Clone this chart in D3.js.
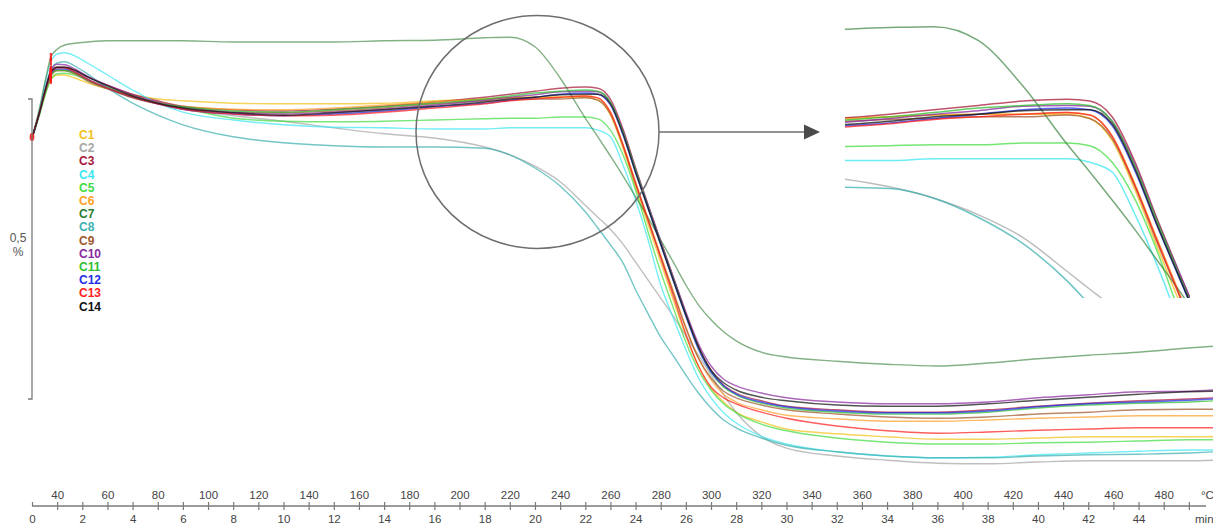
<!DOCTYPE html>
<html>
<head>
<meta charset="utf-8">
<script src="https://cdn.jsdelivr.net/npm/d3@7"></script>
<style>
  body { margin: 0; background: #fff; }
  svg { display: block; }
</style>
</head>
<body>
<svg id="chart" width="1213" height="527"></svg>
<script>
// Sampling times (min) shared by every run
const times = [0, 0.3, 0.55, 0.75, 1.0, 1.3, 1.7, 2.2, 3, 4, 5, 6, 8, 10, 12, 14, 16, 18, 19, 20, 21, 22, 22.5,
  23, 23.5, 24, 24.5, 25, 25.5, 26, 26.5, 27, 27.5, 28, 29, 30, 32, 34, 36, 38, 40, 42, 44, 46, 47];

// Relative length change (%) for each run
const c1 = [0, .040, .077, .098, .105, .105, .100, .092, .082, .072, .065, .062, .058, .057, .057, .058, .062, .065, .067, .068, .068, .068, .063,
  .038, -.017, -.082, -.145, -.207, -.270, -.330, -.380, -.417, -.440, -.457, -.473, -.485, -.493, -.498, -.502, -.502, -.500, -.498, -.498, -.498, -.498];
const c2 = [0, .043, .085, .110, .118, .117, .110, .098, .083, .068, .057, .048, .037, .028, .017, .007, 0, -.015, -.028, -.047, -.073, -.112, -.132,
  -.152, -.177, -.207, -.237, -.267, -.297, -.330, -.362, -.395, -.428, -.457, -.497, -.517, -.530, -.537, -.542, -.543, -.540, -.538, -.538, -.538, -.537];
const c3 = [0, .043, .083, .108, .118, .118, .113, .102, .088, .073, .062, .053, .047, .045, .048, .053, .060, .068, .073, .078, .083, .085, .083,
  .065, .015, -.050, -.112, -.172, -.232, -.292, -.347, -.387, -.412, -.425, -.438, -.447, -.453, -.457, -.457, -.453, -.447, -.442, -.438, -.435, -.433];
const c4 = [0, .047, .097, .127, .140, .142, .137, .125, .105, .080, .058, .043, .030, .022, .018, .017, .015, .015, .017, .017, .017, .017, .013,
  .002, -.045, -.103, -.170, -.245, -.300, -.353, -.400, -.433, -.458, -.475, -.497, -.510, -.523, -.530, -.533, -.532, -.528, -.525, -.522, -.520, -.520];
const c5 = [0, .038, .075, .097, .107, .108, .105, .097, .085, .070, .058, .050, .033, .028, .027, .028, .030, .032, .033, .033, .035, .035, .032,
  .013, -.028, -.087, -.157, -.223, -.283, -.340, -.387, -.420, -.443, -.458, -.477, -.488, -.500, -.507, -.510, -.510, -.508, -.507, -.505, -.503, -.503];
const c6 = [0, .042, .080, .105, .113, .113, .108, .097, .083, .070, .060, .053, .048, .047, .050, .055, .060, .065, .067, .068, .068, .070, .067,
  .043, -.010, -.073, -.135, -.195, -.255, -.315, -.367, -.403, -.427, -.440, -.453, -.462, -.468, -.472, -.472, -.470, -.467, -.465, -.463, -.463, -.463];
const c7 = [0, .050, .100, .135, .148, .155, .158, .160, .162, .162, .162, .162, .160, .160, .160, .162, .163, .167, .168, .152, .100, .033, .002,
  -.030, -.063, -.098, -.133, -.170, -.207, -.245, -.278, -.303, -.323, -.338, -.357, -.365, -.372, -.377, -.380, -.375, -.368, -.362, -.357, -.350, -.347];
const c8 = [0, .043, .087, .113, .125, .127, .120, .107, .083, .058, .038, .022, .002, -.008, -.013, -.015, -.015, -.017, -.028, -.050, -.080, -.123, -.150,
  -.178, -.208, -.253, -.293, -.332, -.363, -.395, -.425, -.450, -.470, -.483, -.500, -.512, -.523, -.530, -.533, -.533, -.530, -.528, -.527, -.525, -.523];
const c9 = [0, .042, .080, .103, .112, .112, .107, .095, .082, .067, .057, .050, .043, .042, .045, .050, .057, .062, .063, .065, .065, .067, .063,
  .040, -.013, -.077, -.138, -.198, -.258, -.317, -.367, -.400, -.422, -.433, -.445, -.453, -.460, -.465, -.467, -.465, -.460, -.457, -.453, -.452, -.452];
const c10 = [0, .043, .085, .113, .123, .122, .115, .103, .088, .072, .060, .052, .043, .040, .043, .048, .055, .063, .068, .072, .077, .078, .077,
  .060, .012, -.052, -.112, -.172, -.232, -.290, -.343, -.380, -.402, -.413, -.425, -.433, -.440, -.443, -.443, -.440, -.433, -.428, -.423, -.422, -.420];
const c11 = [0, .042, .080, .105, .113, .113, .108, .097, .083, .068, .058, .052, .045, .043, .047, .052, .058, .065, .070, .075, .078, .080, .078,
  .060, .010, -.053, -.115, -.175, -.235, -.295, -.350, -.390, -.415, -.428, -.442, -.450, -.457, -.460, -.460, -.457, -.450, -.445, -.442, -.440, -.438];
const c12 = [0, .042, .082, .107, .115, .115, .110, .098, .083, .068, .057, .048, .040, .037, .040, .045, .052, .058, .063, .068, .073, .075, .073,
  .055, .005, -.058, -.118, -.178, -.238, -.297, -.352, -.390, -.413, -.427, -.440, -.448, -.455, -.458, -.458, -.455, -.448, -.443, -.440, -.437, -.435];
const c13 = [0, .043, .082, .108, .117, .117, .110, .098, .083, .068, .057, .048, .040, .037, .038, .043, .050, .057, .062, .065, .068, .070, .067,
  .043, -.012, -.075, -.137, -.200, -.263, -.327, -.380, -.415, -.433, -.443, -.457, -.467, -.480, -.488, -.492, -.490, -.487, -.485, -.483, -.483, -.483];
const c14 = [0, .043, .083, .110, .118, .118, .113, .102, .087, .070, .058, .050, .042, .038, .042, .047, .053, .060, .065, .068, .072, .073, .073,
  .057, .007, -.057, -.117, -.177, -.237, -.295, -.348, -.387, -.408, -.420, -.432, -.438, -.445, -.447, -.447, -.443, -.437, -.432, -.427, -.423, -.422];

const seriesNames = ["C1", "C2", "C3", "C4", "C5", "C6", "C7", "C8", "C9", "C10", "C11", "C12", "C13", "C14"];
const seriesValues = [c1, c2, c3, c4, c5, c6, c7, c8, c9, c10, c11, c12, c13, c14];
const seriesColors = ["#f2c21a", "#a6a6a6", "#a8183a", "#3ee6f2", "#44dd44", "#ffa028", "#2e7d32",
  "#3fb0b0", "#a0582e", "#8a2aa0", "#2fbf2f", "#1f2fe8", "#ff2020", "#111111"];

// Axis labelling
const timeTicks = [0, 2, 4, 6, 8, 10, 12, 14, 16, 18, 20, 22, 24, 26, 28, 30, 32, 34, 36, 38, 40, 42, 44];
const tempTicks = [40, 60, 80, 100, 120, 140, 160, 180, 200, 220, 240, 260, 280, 300, 320, 340, 360, 380, 400, 420, 440, 460, 480];
const minorTicks = d3.range(0, 47);
const markerTime = 0.75;
const scaleBarTop = 0.065;
const scaleBarLength = 0.5;
const scaleBarLabel = ["0,5", "%"];

// Magnified window (min, %)
const zoomTime = [17, 24.75];
const zoomValue = [0.187, -0.142];

const svg = d3.select("#chart");
const W = 1213, H = 527;
svg.append("rect").attr("width", W).attr("height", H).attr("fill", "#fff");

const x = d3.scaleLinear().domain([0, 47]).range([32, 1214]);
const y = d3.scaleLinear().domain([0, -0.5]).range([138, 438]);
const tempScale = d3.scaleLinear().domain([30, 500]).range([x(0), x(47)]);

const series = seriesNames.map((name, i) => ({
  name, color: seriesColors[i],
  points: times.map((t, j) => ({ t, v: seriesValues[i][j] }))
}));

const axisCol = "#7a7a7a";
const font = "'Liberation Sans', Arial, sans-serif";

// ---- main curves
const line = d3.line().x(d => x(d.t)).y(d => y(d.v)).curve(d3.curveMonotoneX);
const gMain = svg.append("g");
gMain.selectAll("path").data(series).join("path")
  .attr("d", d => line(d.points))
  .attr("fill", "none")
  .attr("stroke", d => d.color)
  .attr("stroke-width", 1.4)
  .attr("stroke-opacity", d => d.name === "C7" ? 0.6 : 0.72)
  .attr("stroke-linejoin", "round");

// start / segment markers
const markIdx = times.indexOf(markerTime);
svg.append("g").selectAll("line").data(series).join("line")
  .attr("x1", x(markerTime)).attr("x2", x(markerTime))
  .attr("y1", d => y(d.points[markIdx].v) - 4)
  .attr("y2", d => y(d.points[markIdx].v) + 4)
  .attr("stroke", "#ff1a1a").attr("stroke-width", 2.2).attr("stroke-opacity", 0.85);
svg.append("ellipse")
  .attr("cx", x(0)).attr("cy", y(0) - 1).attr("rx", 2.4).attr("ry", 4)
  .attr("fill", "#ff1a1a").attr("fill-opacity", 0.9);

// ---- vertical scale bar
const yb0 = y(scaleBarTop), yb1 = y(scaleBarTop - scaleBarLength);
const gBar = svg.append("g").attr("stroke", axisCol).attr("stroke-width", 1.3).attr("fill", "none");
gBar.append("path").attr("d", `M${x(0) - 4},${yb0}H${x(0)}V${yb1}H${x(0) - 4}`);
svg.append("g").selectAll("text").data(scaleBarLabel).join("text")
  .attr("x", 18).attr("y", (d, i) => (yb0 + yb1) / 2 - 11 + i * 14)
  .attr("text-anchor", "middle").attr("dominant-baseline", "central")
  .attr("font-family", font).attr("font-size", 12).attr("fill", "#555")
  .text(d => d);

// ---- legend
svg.append("g").selectAll("text").data(series).join("text")
  .attr("x", 79).attr("y", (d, i) => 135 + i * 13.2)
  .attr("dominant-baseline", "central")
  .attr("font-family", font).attr("font-weight", "bold").attr("font-size", 12)
  .attr("fill", d => d.color)
  .text(d => d.name);

// ---- bottom double axis
const axisY = 506;
const gAx = svg.append("g").attr("transform", `translate(0,${axisY})`);
gAx.append("line").attr("x1", x(0)).attr("x2", 1206).attr("stroke", axisCol).attr("stroke-width", 1.3);
const marks = gAx.append("g").attr("transform", "translate(0,-4)")
  .call(d3.axisBottom(x).tickValues(minorTicks).tickSize(8).tickFormat(""));
marks.select(".domain").remove();
marks.selectAll("line").attr("stroke", axisCol).attr("stroke-width", 1.2);
marks.selectAll(".tick").filter(d => d === 0).select("line").attr("y2", 4);

const tempAx = gAx.append("g")
  .call(d3.axisTop(tempScale).tickValues(tempTicks).tickSize(0).tickPadding(7));
const timeAx = gAx.append("g")
  .call(d3.axisBottom(x).tickValues(timeTicks).tickSize(0).tickPadding(9));
[tempAx, timeAx].forEach(g => {
  g.select(".domain").remove();
  g.selectAll("text").attr("font-family", font).attr("font-size", 11.5).attr("fill", "#444");
});
gAx.append("text").attr("x", 1201).attr("y", -7)
  .attr("font-family", font).attr("font-size", 11.5).attr("fill", "#444").text("°C");
gAx.append("text").attr("x", 1195).attr("y", 9).attr("dy", "0.71em")
  .attr("font-family", font).attr("font-size", 11.5).attr("fill", "#444").text("min");

// ---- magnifier ring and arrow
svg.append("ellipse")
  .attr("cx", 537.5).attr("cy", 132).attr("rx", 121.5).attr("ry", 116.5)
  .attr("fill", "none").attr("stroke", "#6e6e6e").attr("stroke-width", 1.5);
svg.append("line").attr("x1", 659).attr("x2", 806).attr("y1", 132).attr("y2", 132)
  .attr("stroke", "#6e6e6e").attr("stroke-width", 1.5);
svg.append("path").attr("d", "M804,124.5L820,132L804,139.5Z").attr("fill", "#4a4a4a");

// ---- magnified view
const ix = d3.scaleLinear().domain(zoomTime).range([845, 1190]);
const iy = d3.scaleLinear().domain(zoomValue).range([10, 298]);
svg.append("clipPath").attr("id", "zoomClip")
  .append("rect").attr("x", 845).attr("y", 10).attr("width", 345).attr("height", 288);
const iline = d3.line().x(d => ix(d.t)).y(d => iy(d.v)).curve(d3.curveMonotoneX);
svg.append("g").attr("clip-path", "url(#zoomClip)")
  .selectAll("path").data(series).join("path")
  .attr("d", d => iline(d.points.filter(p => p.t >= 14 && p.t <= 27)))
  .attr("fill", "none")
  .attr("stroke", d => d.color)
  .attr("stroke-width", 1.5)
  .attr("stroke-opacity", d => d.name === "C7" ? 0.65 : 0.75);
</script>
</body>
</html>
